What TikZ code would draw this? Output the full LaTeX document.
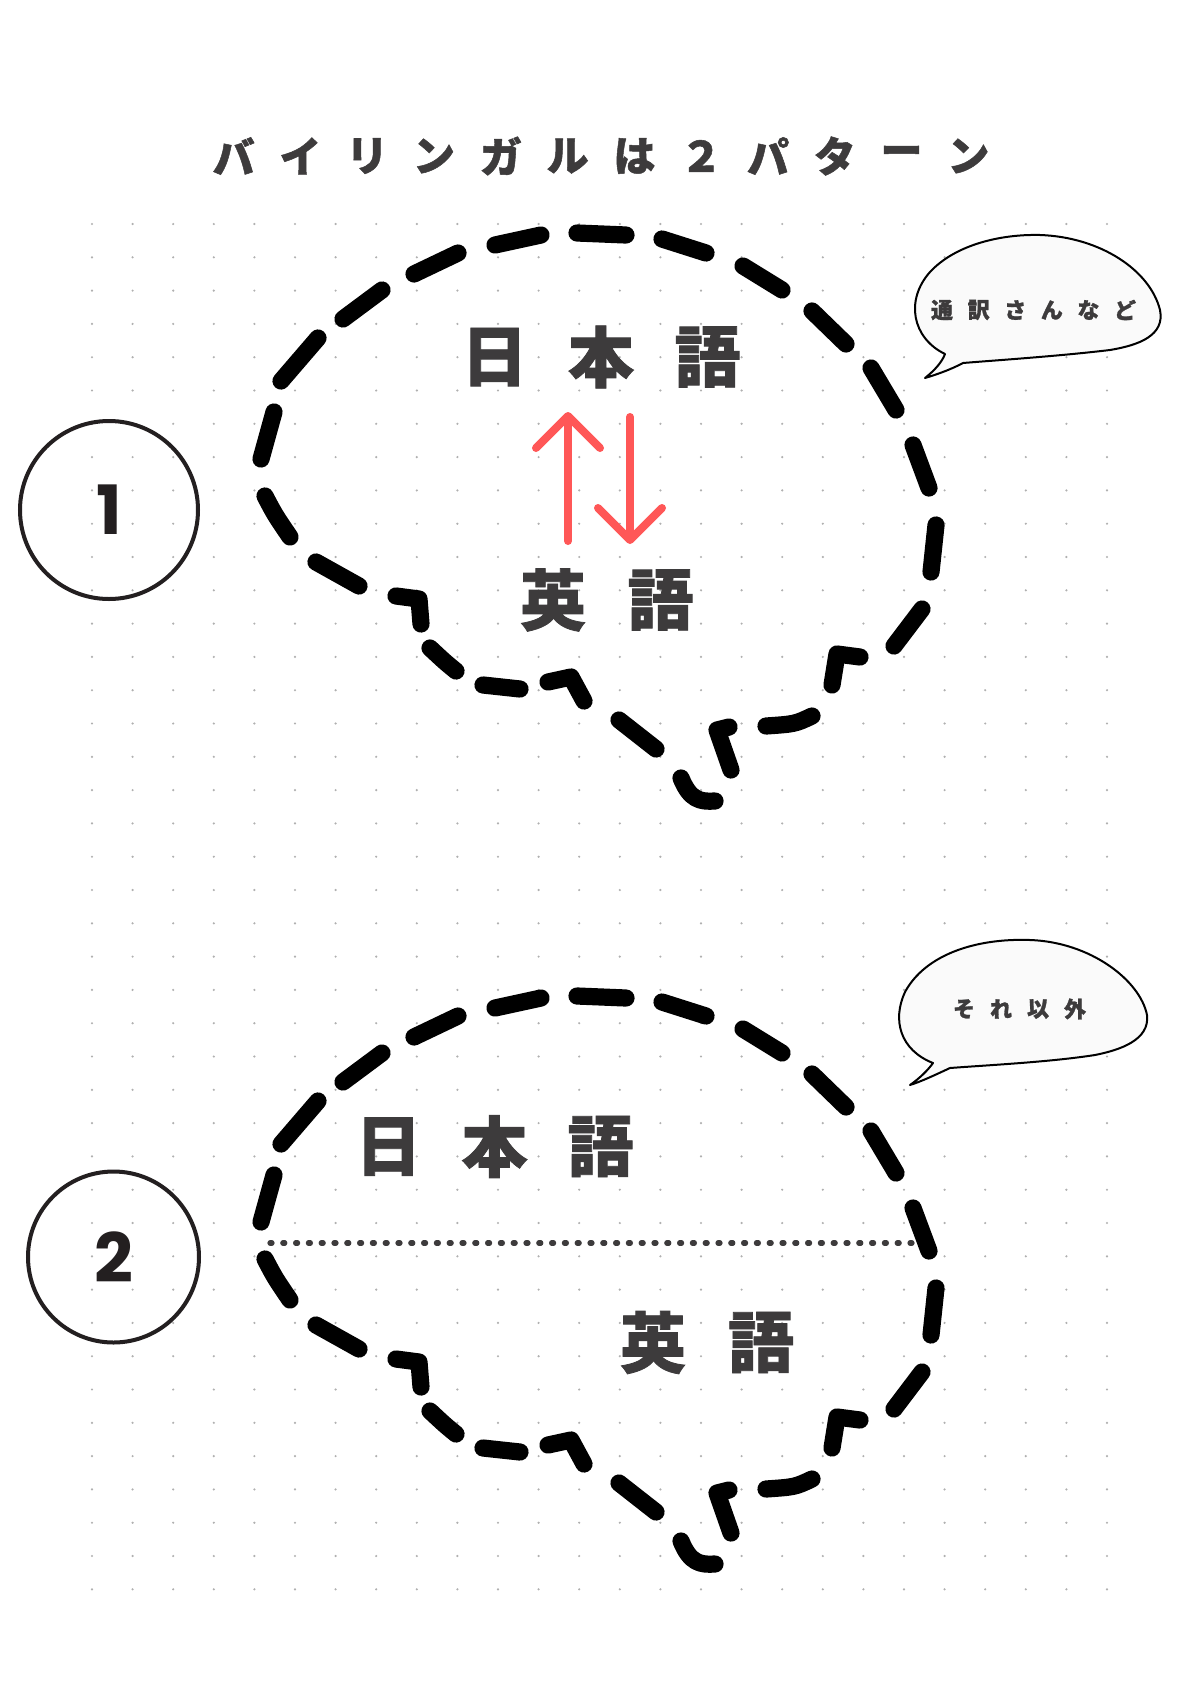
\documentclass[tikz,border=0pt]{standalone}
\usepackage{fontspec}
\setsansfont{Poppins}
\newfontfamily\jpfont[BoldFont={Noto Sans CJK JP Black}, BoldFeatures={FakeBold=1.2}]{Noto Sans CJK JP}
\usetikzlibrary{arrows.meta}

\definecolor{inkgray}{HTML}{3D3B3C}
\definecolor{numink}{HTML}{231F20}
\definecolor{redline}{HTML}{FF5757}
\definecolor{dotgray}{HTML}{B0B0B0}
\definecolor{notefill}{HTML}{FAFAFA}

\tikzset{
  bubbledash/.style={line width=8.6pt, line cap=round, line join=round},
  jp/.style={inner sep=0pt, text=inkgray, font=\jpfont\bfseries\fontsize{#1pt}{#1pt}\selectfont},
  numcircle/.style={draw=numink, circle, line width=2pt, minimum size=89pt, inner sep=0pt,
    text=numink, font=\sffamily\bfseries\fontsize{34pt}{34pt}\selectfont},
  notebubble/.style={draw=black, line width=1pt, fill=notefill, line join=round},
  swaparrow/.style={draw=redline, line width=4pt, line cap=round,
    -{Straight Barb[length=16pt, width=32pt, round]}},
  splitline/.style={draw=inkgray, line width=2.6pt, line cap=round, dash pattern=on 1pt off 5.4pt},
}

% x0, y, pitch, size, name, characters
\newcommand\spacedchars[6]{%
  \foreach \c [count=\k from 0] in {#6}
    \node[jp=#4] (#5\k) at ({#1+#3*\k},#2) {\c};}

% the big dashed speech bubble, one stroke per dash
\newcommand\dashedbubble{%
  \draw[bubbledash] (281,381) -- (318,338);
  \draw[bubbledash] (343,319) -- (382,290);
  \draw[bubbledash] (414,274) -- (458,253);
  \draw[bubbledash] (495,245) -- (541,235);
  \draw[bubbledash] (577,233) -- (626,235);
  \draw[bubbledash] (662,239) -- (706,253);
  \draw[bubbledash] (743,266) -- (782,290);
  \draw[bubbledash] (812,311) -- (846,344);
  \draw[bubbledash] (871,368) -- (896,410);
  \draw[bubbledash] (913,445) -- (929,488);
  \draw[bubbledash] (936,525) -- (931,572);
  \draw[bubbledash] (922,609) -- (894,646);
  \draw[bubbledash] (860,657) -- (837,654) -- (832,685);
  \draw[bubbledash] (812,716) .. controls (795,724) .. (766,726);
  \draw[bubbledash] (729,727) -- (717,730) -- (731,770);
  \draw[bubbledash] (681,778) .. controls (690,800) and (700,802) .. (715,801);
  \draw[bubbledash] (656,749) -- (619,720);
  \draw[bubbledash] (548,682) -- (571,677) -- (584,701);
  \draw[bubbledash] (520,689) -- (483,685);
  \draw[bubbledash] (456,671) .. controls (445,662) .. (430,648);
  \draw[bubbledash] (396,596) -- (419,599) -- (421,624);
  \draw[bubbledash] (359,586) -- (316,562);
  \draw[bubbledash] (290,537) .. controls (275,515) .. (265,496);
  \draw[bubbledash] (261,459) -- (274,412);
}

\begin{document}
\begin{tikzpicture}[x=0.5pt, y=-0.5pt]
\useasboundingbox (0,0) rectangle (1200,1697);
\fill[white] (0,0) rectangle (1200,1697);

% dotted paper
\foreach \i in {0,...,25}
  \foreach \j in {0,...,41}
    \fill[dotgray] ({92+40.6*\i},{224+33.3*\j}) circle (0.6pt);

% title
\spacedchars{233.6}{156}{66.8}{21}{title}{バ,イ,リ,ン,ガ,ル,は,２,パ,タ,ー,ン}

% pattern 1
\node[numcircle] (patternone) at (109,510) {1};
\dashedbubble
\spacedchars{494.5}{357}{106.5}{33}{jaone}{日,本,語}
\spacedchars{553}{600}{107.5}{33}{enone}{英,語}
\coordinate (upfrom) at (568,541);
\coordinate (upto) at (568,412);
\coordinate (downfrom) at (630,417);
\coordinate (downto) at (630,544);
\draw[swaparrow] (upfrom) -- (upto);
\draw[swaparrow] (downfrom) -- (downto);

\draw[notebubble] (945,354) .. controls (912,338) and (905,300) .. (930,272)
  .. controls (955,245) and (1000,234) .. (1040,235)
  .. controls (1100,237) and (1150,270) .. (1160,310)
  .. controls (1165,335) and (1140,345) .. (1110,350)
  .. controls (1060,356) and (1000,360) .. (963,363)
  .. controls (950,370) and (935,375) .. (925,378)
  .. controls (935,370) and (942,362) .. (945,354) -- cycle;
\spacedchars{942}{310}{36.6}{11}{noteone}{通,訳,さ,ん,な,ど}

% pattern 2
\node[numcircle, minimum size=85.5pt] (patterntwo) at (113.5,1257) {2};
\begin{scope}[shift={(0,763)}]
  \dashedbubble
\end{scope}
\coordinate (splitL) at (270,1243);
\coordinate (splitR) at (921,1243);
\draw[splitline] (splitL) -- (splitR);
\spacedchars{388.5}{1146.5}{106}{33}{jatwo}{日,本,語}
\spacedchars{653}{1342.5}{108}{33}{entwo}{英,語}

\draw[notebubble] (933,1063) .. controls (900,1050) and (892,1020) .. (905,992)
  .. controls (925,955) and (975,938) .. (1030,940)
  .. controls (1090,942) and (1140,980) .. (1147,1015)
  .. controls (1150,1040) and (1120,1050) .. (1095,1055)
  .. controls (1050,1062) and (990,1065) .. (950,1068)
  .. controls (935,1075) and (920,1082) .. (910,1085)
  .. controls (920,1078) and (928,1070) .. (933,1063) -- cycle;
\spacedchars{964}{1009}{37}{11}{notetwo}{そ,れ,以,外}
\end{tikzpicture}
\end{document}
